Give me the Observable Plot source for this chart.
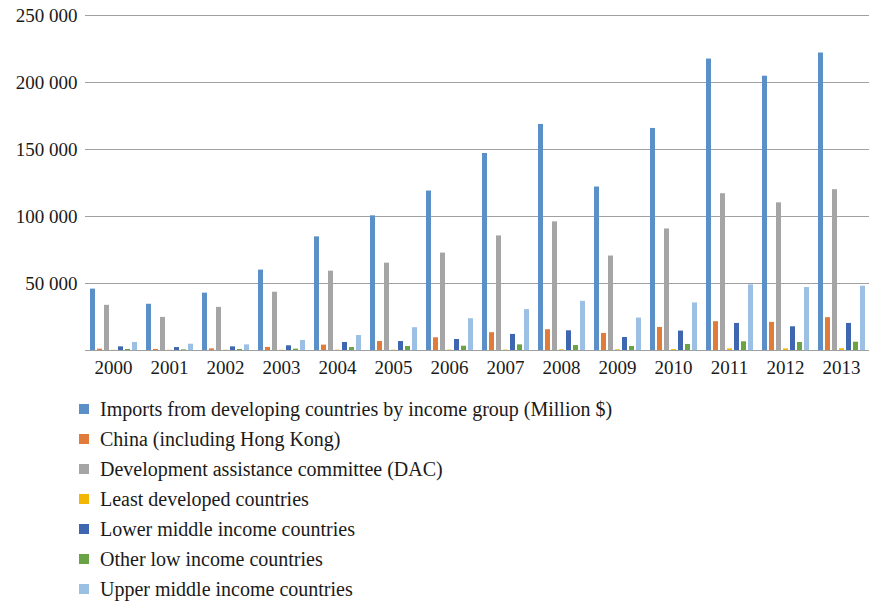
<!DOCTYPE html>
<html>
<head>
<meta charset="utf-8">
<script src="https://cdn.jsdelivr.net/npm/d3@7"></script>
<script src="https://cdn.jsdelivr.net/npm/@observablehq/plot@0.6"></script>
<style>
  html, body { margin: 0; padding: 0; background: #fff; }
  body, body *, svg text { font-family: 'Liberation Serif', Times, serif !important; }
</style>
</head>
<body style="width:878px;height:604px;overflow:hidden;color:#1a1a1a">
<div id="chart"></div>
<div id="legend" style="margin-top:4px"></div>
<script>
const years = ["2000","2001","2002","2003","2004","2005","2006","2007","2008","2009","2010","2011","2012","2013"];
const series = [
  "Imports from developing countries by income group (Million $)",
  "China (including Hong Kong)",
  "Development assistance committee (DAC)",
  "Least developed countries",
  "Lower middle income countries",
  "Other low income countries",
  "Upper middle income countries"
];
const imports     = [45800, 34500, 42800, 60000, 84800, 100500, 119000, 147000, 168700, 122000, 165700, 217500, 204700, 222000];
const china       = [1000, 800, 1200, 2300, 4000, 6700, 9500, 13300, 15500, 12700, 17200, 21500, 21000, 24500];
const dac         = [33700, 24700, 32200, 43500, 59200, 65200, 72700, 85500, 96000, 70500, 90700, 117000, 110200, 120000];
const leastDev    = [150, 150, 200, 200, 250, 250, 300, 300, 500, 500, 700, 1200, 1200, 1300];
const lowerMiddle = [2700, 2200, 2700, 3500, 6000, 6700, 8200, 12000, 14700, 9700, 14500, 20200, 17700, 20200];
const otherLow    = [750, 500, 750, 1000, 2200, 3000, 3200, 4200, 3700, 3000, 4500, 6500, 6000, 6200];
const upperMiddle = [6000, 4700, 4200, 7500, 11200, 17000, 23700, 30500, 36700, 24200, 35500, 49000, 47000, 48000];
const yTicks = [50000, 100000, 150000, 200000, 250000];
const colors = ["#5b8fc8", "#e07b39", "#a5a5a5", "#f2b705", "#3f66b1", "#6aa345", "#9cbfe4"];

const allValues = [imports, china, dac, leastDev, lowerMiddle, otherLow, upperMiddle];
const rows = [];
years.forEach((yr, i) => {
  series.forEach((s, j) => rows.push({year: yr, series: s, value: allValues[j][i]}));
});

const fmt = d => d3.format(",")(d).replace(/,/g, " ");
const FONT = "'Liberation Serif', Times, serif";

const chart = Plot.plot({
  width: 878,
  height: 390,
  marginTop: 15,
  marginLeft: 79,
  marginRight: 3,
  marginBottom: 40,
  style: {fontFamily: FONT, fontSize: "19px", color: "#1a1a1a", background: "#fff"},
  facet: {data: rows, x: "year"},
  fx: {domain: years, label: null, padding: 0, tickSize: 0, tickPadding: 10},
  x: {domain: series, axis: null, paddingInner: 0.3, paddingOuter: 0.45},
  y: {domain: [0, 250000], ticks: yTicks, tickFormat: fmt, tickSize: 0, tickPadding: 8, label: null},
  color: {domain: series, range: colors},
  marks: [
    Plot.ruleY(yTicks, {stroke: "#a0a0a0", strokeWidth: 1}),
    Plot.barY(rows, {x: "series", y: "value", fill: "series"}),
    Plot.ruleY([0], {stroke: "#a0a0a0", strokeWidth: 1})
  ]
});
chart.style.setProperty("font-family", FONT, "important");
chart.querySelectorAll("g, text").forEach(t => t.style.setProperty("font-family", FONT, "important"));
document.getElementById("chart").appendChild(chart);

const legend = document.getElementById("legend");
series.forEach((s, j) => {
  const it = document.createElement("div");
  it.setAttribute("style", "display:flex;align-items:center;height:30px;font-size:20px");
  it.style.setProperty("font-family", FONT, "important");
  const sw = document.createElement("span");
  sw.setAttribute("style", "width:10px;height:10px;margin-left:79px;margin-right:11px;background:" + colors[j]);
  const tx = document.createElement("span");
  tx.style.setProperty("font-family", FONT, "important");
  tx.textContent = s;
  it.appendChild(sw);
  it.appendChild(tx);
  legend.appendChild(it);
});
</script>
</body>
</html>
